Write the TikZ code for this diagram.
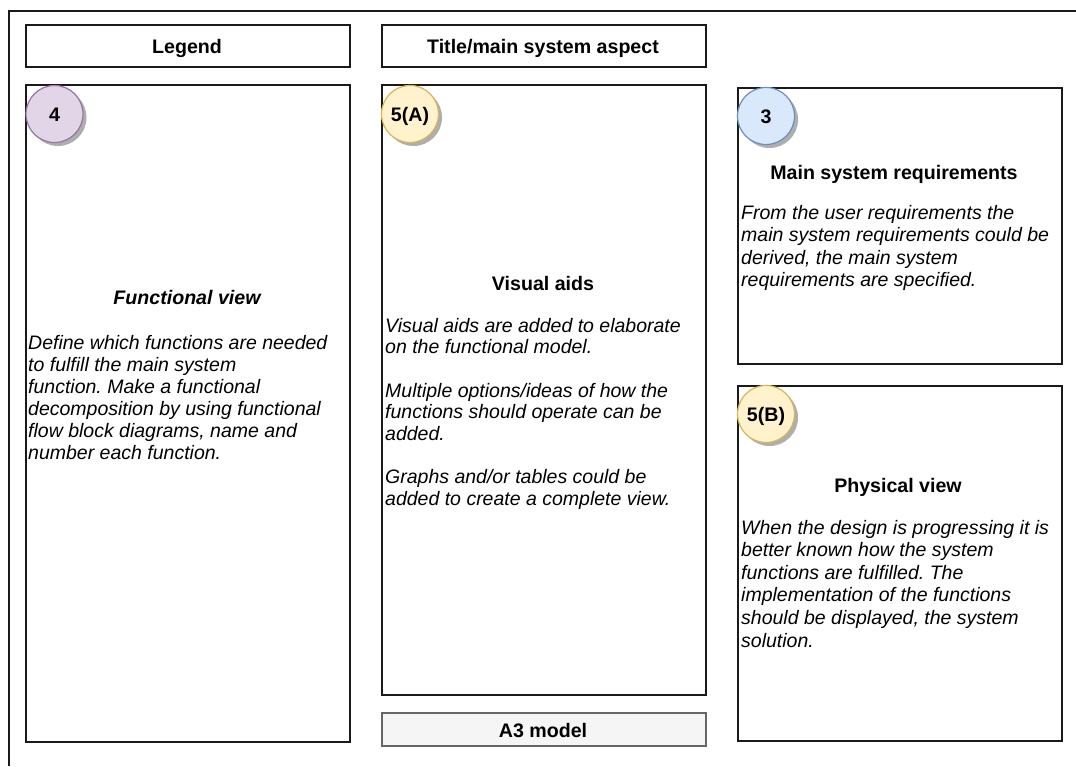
\documentclass[tikz,border=0pt]{standalone}
\usepackage{fontspec}
\setmainfont{Liberation Sans}
\frenchspacing
\usetikzlibrary{shadows}
\definecolor{purpF}{HTML}{E1D5E7}\definecolor{purpD}{HTML}{9673A6}
\definecolor{yelF}{HTML}{FFF2CC}\definecolor{yelD}{HTML}{D6B656}
\definecolor{bluF}{HTML}{DAE8FC}\definecolor{bluD}{HTML}{6C8EBF}
\definecolor{grayF}{HTML}{F5F5F5}\definecolor{grayD}{HTML}{666666}
\definecolor{lineC}{HTML}{1A1A1A}
\newcommand\myfs{\fontsize{19.6}{22}\selectfont}
\newcommand\bodytext[3]{\parbox[t]{330pt}{\fontsize{19.5}{#1}\selectfont\itshape\raggedright #3}}
\tikzset{
  box/.style={draw=lineC, line width=1.7pt, fill=white, anchor=north west, inner sep=0pt},
  badge/.style={circle, draw, line width=1.2pt, minimum size=57pt, inner sep=0pt, font=\myfs\bfseries,
    text height=14pt, text depth=0pt,
    drop shadow={shadow xshift=3.5pt, shadow yshift=-3.5pt, fill=black!35, opacity=0.9}},
  head/.style={font=\myfs\bfseries, inner sep=0pt, anchor=base},
  body/.style={inner sep=0pt, anchor=base west},
}
\begin{document}
\begin{tikzpicture}[x=1pt,y=-1pt]
\useasboundingbox (0,0) rectangle (1076,766);
\coordinate (fbl) at (9,766);
\coordinate (ftl) at (9,11);
\coordinate (ftr) at (1076,11);
\draw[line width=1.7pt, lineC] (fbl) -- (ftl) -- (ftr);

\node[box, minimum width=324pt, minimum height=42pt] (legend) at (25,24) {};
\node[head] (legendt) at (187,53) {Legend};
\node[box, minimum width=324pt, minimum height=42pt] (title) at (381,24) {};
\node[head] (titlet) at (543,53) {Title/main system aspect};

\node[box, minimum width=324pt, minimum height=657pt] (func) at (25,84) {};
\node[box, minimum width=324pt, minimum height=610pt] (vis) at (381,84) {};
\node[box, draw=grayD, fill=grayF, minimum width=324pt, minimum height=33pt] (a3) at (381,712) {};
\node[head] (a3t) at (543,737) {A3 model};
\node[box, minimum width=324pt, minimum height=276pt] (req) at (737,87) {};
\node[box, minimum width=324pt, minimum height=355pt] (phys) at (737,385) {};

\node[badge, fill=purpF, draw=purpD] (c4) at (54.5,114) {4};
\node[badge, fill=yelF, draw=yelD] (c5a) at (410,114) {5(A)};
\node[badge, fill=bluF, draw=bluD] (c3) at (766,116) {3};
\node[badge, fill=yelF, draw=yelD] (c5b) at (766,414) {5(B)};

\node[head, font=\myfs\bfseries\itshape] (funch) at (187,304) {Functional view};
\node[body] (funcb) at (28,349) {\bodytext{22pt}{}{Define which functions are needed\\
to fulfill the main system\\
function. Make a functional\\
decomposition by using functional\\
flow block diagrams, name and\\
number each function.}};

\node[head] (vish) at (543,290) {Visual aids};
\node[body] (visb) at (385,332) {\bodytext{21.7pt}{}{Visual aids are added to elaborate\\
on the functional model.\\[21.7pt]
Multiple options/ideas of how the\\
functions should operate can be\\
added.\\[21.7pt]
Graphs and/or tables could be\\
added to create a complete view.}};

\node[head] (reqh) at (894,179) {Main system requirements};
\node[body] (reqb) at (741,219) {\bodytext{22.6pt}{}{From the user requirements the\\
main system requirements could be\\
derived, the main system\\
requirements are specified.}};

\node[head] (physh) at (898,492) {Physical view};
\node[body] (physb) at (741,534) {\bodytext{22.6pt}{}{When the design is progressing it is\\
better known how the system\\
functions are fulfilled. The\\
implementation of the functions\\
should be displayed, the system\\
solution.}};
\end{tikzpicture}
\end{document}
